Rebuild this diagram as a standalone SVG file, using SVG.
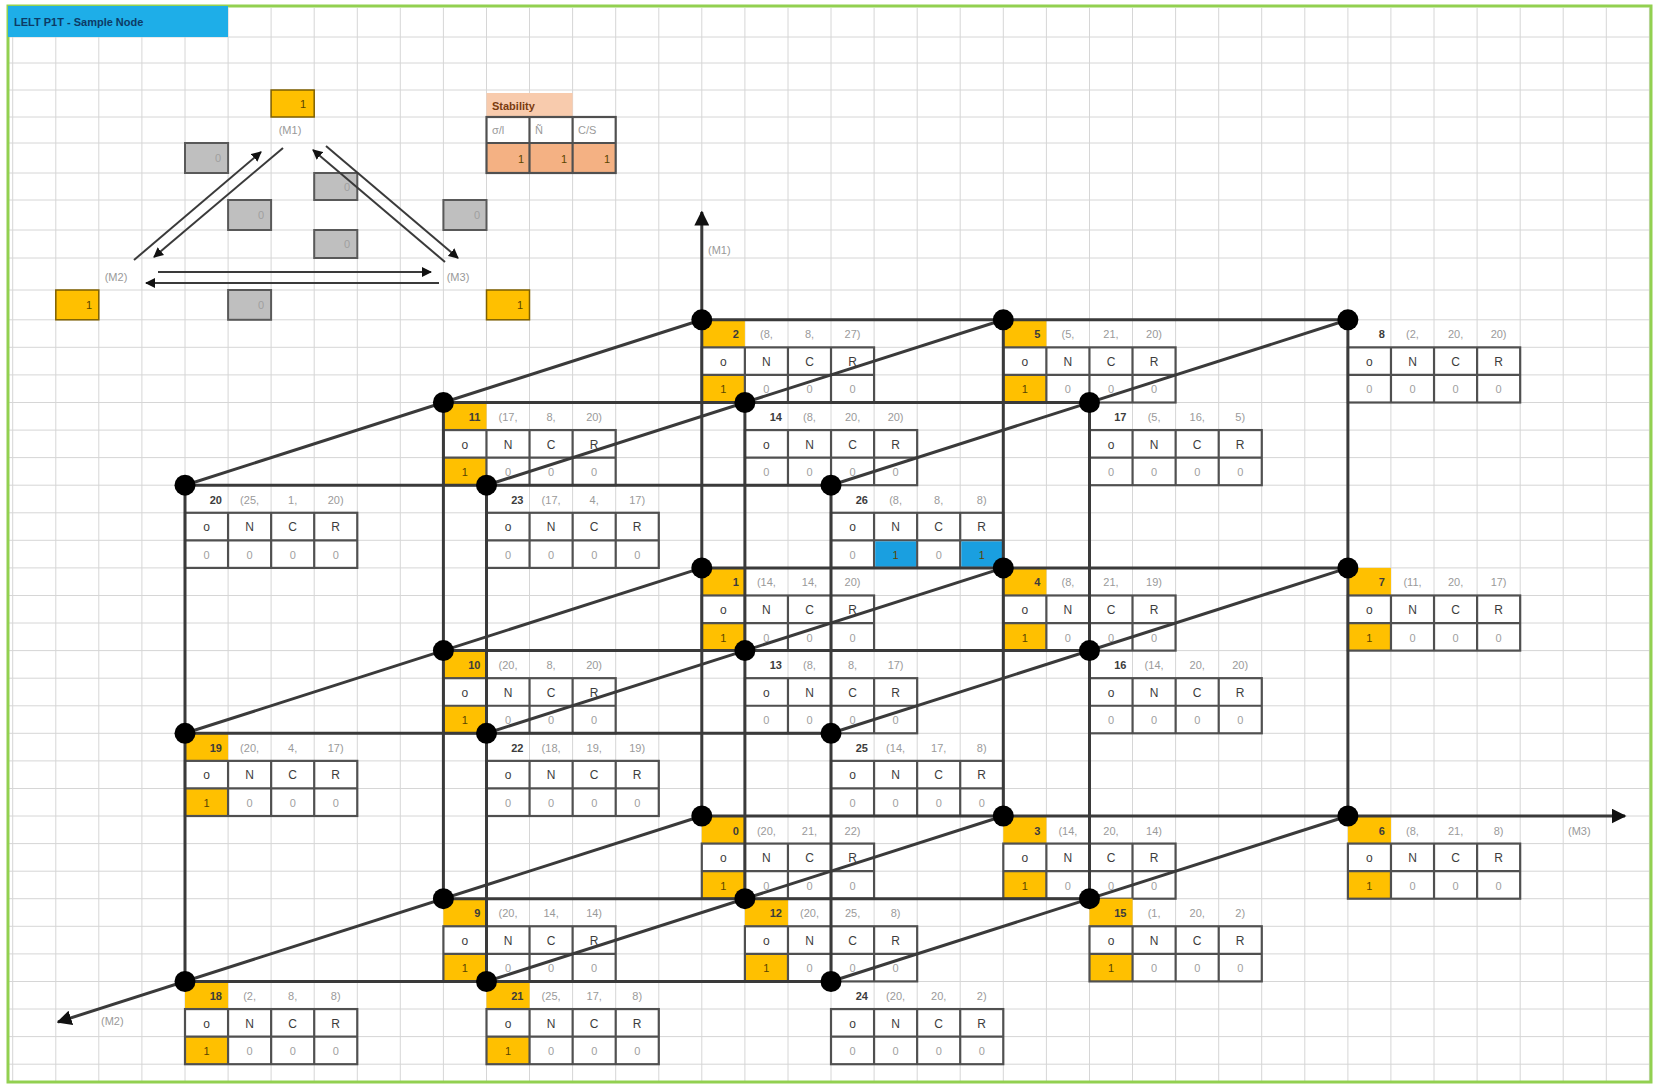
<svg xmlns="http://www.w3.org/2000/svg" xmlns:xlink="http://www.w3.org/1999/xlink" width="1655" height="1086" viewBox="0 0 1655 1086">
<style>
text{font-family:"Liberation Sans",Arial,sans-serif;font-size:11px}
.grid{stroke:#d6d6d6;stroke-width:1;fill:none}
.tb{stroke:#505050;stroke-width:2.2;fill:none}
.yel{fill:#ffc000}
.blu{fill:#1a9fe0}
.gbox{fill:#bfbfbf;stroke:#595959;stroke-width:2}
.ybox{fill:#ffc000;stroke:#7f6000;stroke-width:1.5}
.hd{fill:#3c3c3c;font-size:12px;text-anchor:middle}
.v{fill:#a0a0a0;text-anchor:middle}
.vy{fill:#5a4500;text-anchor:middle}
.num{fill:#3c3c3c;font-weight:bold;text-anchor:end}
.lb{fill:#9a9a9a;text-anchor:middle}
.ax{fill:#999;font-size:11px}
.ln{stroke:#3a3a3a;stroke-width:3;fill:none}
.tri{stroke:#3a3a3a;stroke-width:2;fill:none}
.dot{fill:#000}
</style>
<defs>
<marker id="arr" viewBox="0 0 10 10" refX="9" refY="5" markerWidth="5" markerHeight="5" orient="auto"><path d="M0,0L10,5L0,10z" fill="#111"/></marker>
<g id="tbl">
<rect class="tb" x="0" y="27.57" width="172.28" height="55.14"/>
<path class="tb" d="M43.07 27.57V82.71M86.14 27.57V82.71M129.21 27.57V82.71M0 55.14H172.28"/>
<text class="hd" x="21.5" y="46">o</text><text class="hd" x="64.6" y="46">N</text><text class="hd" x="107.7" y="46">C</text><text class="hd" x="150.7" y="46">R</text>
<text class="v" x="64.6" y="73.7">0</text><text class="v" x="107.7" y="73.7">0</text><text class="v" x="150.7" y="73.7">0</text>
</g>
</defs>
<rect x="0" y="0" width="1655" height="1086" fill="#fff"/>
<path class="grid" d="M12.7 8V1082M55.8 8V1082M98.8 8V1082M141.9 8V1082M185 8V1082M228.1 8V1082M271.1 8V1082M314.2 8V1082M357.3 8V1082M400.3 8V1082M443.4 8V1082M486.5 8V1082M529.5 8V1082M572.6 8V1082M615.7 8V1082M658.8 8V1082M701.8 8V1082M744.9 8V1082M788 8V1082M831 8V1082M874.1 8V1082M917.2 8V1082M960.2 8V1082M1003.3 8V1082M1046.4 8V1082M1089.5 8V1082M1132.5 8V1082M1175.6 8V1082M1218.7 8V1082M1261.7 8V1082M1304.8 8V1082M1347.9 8V1082M1390.9 8V1082M1434 8V1082M1477.1 8V1082M1520.2 8V1082M1563.2 8V1082M1606.3 8V1082M1649.4 8V1082
M8 37H1651M8 63H1651M8 90H1651M8 117H1651M8 143H1651M8 173H1651M8 200H1651M8 230H1651M8 258H1651M8 290H1651M8 319.8H1651M8 347.3H1651M8 374.9H1651M8 402.5H1651M8 430.1H1651M8 457.6H1651M8 485.2H1651M8 512.8H1651M8 540.3H1651M8 567.9H1651M8 595.5H1651M8 623H1651M8 650.6H1651M8 678.2H1651M8 705.8H1651M8 733.3H1651M8 760.9H1651M8 788.5H1651M8 816H1651M8 843.6H1651M8 871.2H1651M8 898.7H1651M8 926.3H1651M8 953.9H1651M8 981.5H1651M8 1009H1651M8 1036.6H1651M8 1064.2H1651"/>
<rect x="8" y="6" width="1643" height="1076" fill="none" stroke="#92d050" stroke-width="3"/>
<g id="title"><rect x="8" y="6" width="220" height="31" fill="#1eaee8"/><text x="14" y="26" fill="#0d3b66" font-weight="bold">LELT P1T - Sample Node</text></g>

<g id="legend-triangle">
<rect class="ybox" x="271.1" y="90" width="43.1" height="27"/><text class="vy" x="306" y="108" style="text-anchor:end">1</text>
<rect class="ybox" x="55.8" y="290" width="43" height="29.8"/><text class="vy" x="92" y="309" style="text-anchor:end">1</text>
<rect class="ybox" x="486.5" y="290" width="43" height="29.8"/><text class="vy" x="523" y="309" style="text-anchor:end">1</text>
<rect class="gbox" x="185" y="143" width="43.1" height="30"/><text class="v" x="221" y="162" style="text-anchor:end">0</text>
<rect class="gbox" x="314.2" y="173" width="43.1" height="27"/><text class="v" x="350" y="191" style="text-anchor:end">0</text>
<rect class="gbox" x="228.1" y="200" width="43" height="30"/><text class="v" x="264" y="219" style="text-anchor:end">0</text>
<rect class="gbox" x="443.4" y="200" width="43.1" height="30"/><text class="v" x="480" y="219" style="text-anchor:end">0</text>
<rect class="gbox" x="314.2" y="230" width="43.1" height="28"/><text class="v" x="350" y="248" style="text-anchor:end">0</text>
<rect class="gbox" x="228.1" y="290" width="43" height="29.8"/><text class="v" x="264" y="309" style="text-anchor:end">0</text>
<text class="ax" x="290" y="134" text-anchor="middle">(M1)</text>
<text class="ax" x="116" y="281" text-anchor="middle">(M2)</text>
<text class="ax" x="458" y="281" text-anchor="middle">(M3)</text>
</g>

<g id="stability">
<rect x="486.5" y="93" width="86.1" height="24" fill="#f8cbad"/>
<text x="492" y="110" fill="#7a3b10" font-weight="bold">Stability</text>
<rect x="486.5" y="143" width="129.2" height="30" fill="#f4b183"/>
<rect class="tb" x="486.5" y="117" width="129.2" height="56"/>
<path class="tb" d="M529.5 117V173M572.6 117V173M486.5 143H615.7"/>
<text class="lb" x="492" y="134" style="text-anchor:start">σ/l</text><text class="lb" x="535" y="134" style="text-anchor:start">Ñ</text><text class="lb" x="578" y="134" style="text-anchor:start">C/S</text>
<text class="vy" x="524" y="163" style="text-anchor:end">1</text><text class="vy" x="567" y="163" style="text-anchor:end">1</text><text class="vy" x="610" y="163" style="text-anchor:end">1</text>
</g>

<g id="node-0" transform="translate(701.8,816)"><rect class="yel" width="43.07" height="27.57"/><rect class="yel" y="55.14" width="43.07" height="27.57"/><use href="#tbl"/><text class="num" x="37" y="18.5">0</text><text class="lb" x="64.6" y="18.5">(20,</text><text class="lb" x="107.7" y="18.5">21,</text><text class="lb" x="150.7" y="18.5">22)</text><text class="vy" x="21.5" y="73.7">1</text></g>
<g id="node-1" transform="translate(701.8,567.9)"><rect class="yel" width="43.07" height="27.57"/><rect class="yel" y="55.14" width="43.07" height="27.57"/><use href="#tbl"/><text class="num" x="37" y="18.5">1</text><text class="lb" x="64.6" y="18.5">(14,</text><text class="lb" x="107.7" y="18.5">14,</text><text class="lb" x="150.7" y="18.5">20)</text><text class="vy" x="21.5" y="73.7">1</text></g>
<g id="node-2" transform="translate(701.8,319.8)"><rect class="yel" width="43.07" height="27.57"/><rect class="yel" y="55.14" width="43.07" height="27.57"/><use href="#tbl"/><text class="num" x="37" y="18.5">2</text><text class="lb" x="64.6" y="18.5">(8,</text><text class="lb" x="107.7" y="18.5">8,</text><text class="lb" x="150.7" y="18.5">27)</text><text class="vy" x="21.5" y="73.7">1</text></g>
<g id="node-3" transform="translate(1003.3,816)"><rect class="yel" width="43.07" height="27.57"/><rect class="yel" y="55.14" width="43.07" height="27.57"/><use href="#tbl"/><text class="num" x="37" y="18.5">3</text><text class="lb" x="64.6" y="18.5">(14,</text><text class="lb" x="107.7" y="18.5">20,</text><text class="lb" x="150.7" y="18.5">14)</text><text class="vy" x="21.5" y="73.7">1</text></g>
<g id="node-4" transform="translate(1003.3,567.9)"><rect class="yel" width="43.07" height="27.57"/><rect class="yel" y="55.14" width="43.07" height="27.57"/><use href="#tbl"/><text class="num" x="37" y="18.5">4</text><text class="lb" x="64.6" y="18.5">(8,</text><text class="lb" x="107.7" y="18.5">21,</text><text class="lb" x="150.7" y="18.5">19)</text><text class="vy" x="21.5" y="73.7">1</text></g>
<g id="node-5" transform="translate(1003.3,319.8)"><rect class="yel" width="43.07" height="27.57"/><rect class="yel" y="55.14" width="43.07" height="27.57"/><use href="#tbl"/><text class="num" x="37" y="18.5">5</text><text class="lb" x="64.6" y="18.5">(5,</text><text class="lb" x="107.7" y="18.5">21,</text><text class="lb" x="150.7" y="18.5">20)</text><text class="vy" x="21.5" y="73.7">1</text></g>
<g id="node-6" transform="translate(1347.9,816)"><rect class="yel" width="43.07" height="27.57"/><rect class="yel" y="55.14" width="43.07" height="27.57"/><use href="#tbl"/><text class="num" x="37" y="18.5">6</text><text class="lb" x="64.6" y="18.5">(8,</text><text class="lb" x="107.7" y="18.5">21,</text><text class="lb" x="150.7" y="18.5">8)</text><text class="vy" x="21.5" y="73.7">1</text></g>
<g id="node-7" transform="translate(1347.9,567.9)"><rect class="yel" width="43.07" height="27.57"/><rect class="yel" y="55.14" width="43.07" height="27.57"/><use href="#tbl"/><text class="num" x="37" y="18.5">7</text><text class="lb" x="64.6" y="18.5">(11,</text><text class="lb" x="107.7" y="18.5">20,</text><text class="lb" x="150.7" y="18.5">17)</text><text class="vy" x="21.5" y="73.7">1</text></g>
<g id="node-8" transform="translate(1347.9,319.8)"><use href="#tbl"/><text class="num" x="37" y="18.5">8</text><text class="lb" x="64.6" y="18.5">(2,</text><text class="lb" x="107.7" y="18.5">20,</text><text class="lb" x="150.7" y="18.5">20)</text><text class="v" x="21.5" y="73.7">0</text></g>
<g id="node-9" transform="translate(443.4,898.7)"><rect class="yel" width="43.07" height="27.57"/><rect class="yel" y="55.14" width="43.07" height="27.57"/><use href="#tbl"/><text class="num" x="37" y="18.5">9</text><text class="lb" x="64.6" y="18.5">(20,</text><text class="lb" x="107.7" y="18.5">14,</text><text class="lb" x="150.7" y="18.5">14)</text><text class="vy" x="21.5" y="73.7">1</text></g>
<g id="node-10" transform="translate(443.4,650.6)"><rect class="yel" width="43.07" height="27.57"/><rect class="yel" y="55.14" width="43.07" height="27.57"/><use href="#tbl"/><text class="num" x="37" y="18.5">10</text><text class="lb" x="64.6" y="18.5">(20,</text><text class="lb" x="107.7" y="18.5">8,</text><text class="lb" x="150.7" y="18.5">20)</text><text class="vy" x="21.5" y="73.7">1</text></g>
<g id="node-11" transform="translate(443.4,402.5)"><rect class="yel" width="43.07" height="27.57"/><rect class="yel" y="55.14" width="43.07" height="27.57"/><use href="#tbl"/><text class="num" x="37" y="18.5">11</text><text class="lb" x="64.6" y="18.5">(17,</text><text class="lb" x="107.7" y="18.5">8,</text><text class="lb" x="150.7" y="18.5">20)</text><text class="vy" x="21.5" y="73.7">1</text></g>
<g id="node-12" transform="translate(744.9,898.7)"><rect class="yel" width="43.07" height="27.57"/><rect class="yel" y="55.14" width="43.07" height="27.57"/><use href="#tbl"/><text class="num" x="37" y="18.5">12</text><text class="lb" x="64.6" y="18.5">(20,</text><text class="lb" x="107.7" y="18.5">25,</text><text class="lb" x="150.7" y="18.5">8)</text><text class="vy" x="21.5" y="73.7">1</text></g>
<g id="node-13" transform="translate(744.9,650.6)"><use href="#tbl"/><text class="num" x="37" y="18.5">13</text><text class="lb" x="64.6" y="18.5">(8,</text><text class="lb" x="107.7" y="18.5">8,</text><text class="lb" x="150.7" y="18.5">17)</text><text class="v" x="21.5" y="73.7">0</text></g>
<g id="node-14" transform="translate(744.9,402.5)"><use href="#tbl"/><text class="num" x="37" y="18.5">14</text><text class="lb" x="64.6" y="18.5">(8,</text><text class="lb" x="107.7" y="18.5">20,</text><text class="lb" x="150.7" y="18.5">20)</text><text class="v" x="21.5" y="73.7">0</text></g>
<g id="node-15" transform="translate(1089.5,898.7)"><rect class="yel" width="43.07" height="27.57"/><rect class="yel" y="55.14" width="43.07" height="27.57"/><use href="#tbl"/><text class="num" x="37" y="18.5">15</text><text class="lb" x="64.6" y="18.5">(1,</text><text class="lb" x="107.7" y="18.5">20,</text><text class="lb" x="150.7" y="18.5">2)</text><text class="vy" x="21.5" y="73.7">1</text></g>
<g id="node-16" transform="translate(1089.5,650.6)"><use href="#tbl"/><text class="num" x="37" y="18.5">16</text><text class="lb" x="64.6" y="18.5">(14,</text><text class="lb" x="107.7" y="18.5">20,</text><text class="lb" x="150.7" y="18.5">20)</text><text class="v" x="21.5" y="73.7">0</text></g>
<g id="node-17" transform="translate(1089.5,402.5)"><use href="#tbl"/><text class="num" x="37" y="18.5">17</text><text class="lb" x="64.6" y="18.5">(5,</text><text class="lb" x="107.7" y="18.5">16,</text><text class="lb" x="150.7" y="18.5">5)</text><text class="v" x="21.5" y="73.7">0</text></g>
<g id="node-18" transform="translate(185,981.5)"><rect class="yel" width="43.07" height="27.57"/><rect class="yel" y="55.14" width="43.07" height="27.57"/><use href="#tbl"/><text class="num" x="37" y="18.5">18</text><text class="lb" x="64.6" y="18.5">(2,</text><text class="lb" x="107.7" y="18.5">8,</text><text class="lb" x="150.7" y="18.5">8)</text><text class="vy" x="21.5" y="73.7">1</text></g>
<g id="node-19" transform="translate(185,733.3)"><rect class="yel" width="43.07" height="27.57"/><rect class="yel" y="55.14" width="43.07" height="27.57"/><use href="#tbl"/><text class="num" x="37" y="18.5">19</text><text class="lb" x="64.6" y="18.5">(20,</text><text class="lb" x="107.7" y="18.5">4,</text><text class="lb" x="150.7" y="18.5">17)</text><text class="vy" x="21.5" y="73.7">1</text></g>
<g id="node-20" transform="translate(185,485.2)"><use href="#tbl"/><text class="num" x="37" y="18.5">20</text><text class="lb" x="64.6" y="18.5">(25,</text><text class="lb" x="107.7" y="18.5">1,</text><text class="lb" x="150.7" y="18.5">20)</text><text class="v" x="21.5" y="73.7">0</text></g>
<g id="node-21" transform="translate(486.5,981.5)"><rect class="yel" width="43.07" height="27.57"/><rect class="yel" y="55.14" width="43.07" height="27.57"/><use href="#tbl"/><text class="num" x="37" y="18.5">21</text><text class="lb" x="64.6" y="18.5">(25,</text><text class="lb" x="107.7" y="18.5">17,</text><text class="lb" x="150.7" y="18.5">8)</text><text class="vy" x="21.5" y="73.7">1</text></g>
<g id="node-22" transform="translate(486.5,733.3)"><use href="#tbl"/><text class="num" x="37" y="18.5">22</text><text class="lb" x="64.6" y="18.5">(18,</text><text class="lb" x="107.7" y="18.5">19,</text><text class="lb" x="150.7" y="18.5">19)</text><text class="v" x="21.5" y="73.7">0</text></g>
<g id="node-23" transform="translate(486.5,485.2)"><use href="#tbl"/><text class="num" x="37" y="18.5">23</text><text class="lb" x="64.6" y="18.5">(17,</text><text class="lb" x="107.7" y="18.5">4,</text><text class="lb" x="150.7" y="18.5">17)</text><text class="v" x="21.5" y="73.7">0</text></g>
<g id="node-24" transform="translate(831,981.5)"><use href="#tbl"/><text class="num" x="37" y="18.5">24</text><text class="lb" x="64.6" y="18.5">(20,</text><text class="lb" x="107.7" y="18.5">20,</text><text class="lb" x="150.7" y="18.5">2)</text><text class="v" x="21.5" y="73.7">0</text></g>
<g id="node-25" transform="translate(831,733.3)"><use href="#tbl"/><text class="num" x="37" y="18.5">25</text><text class="lb" x="64.6" y="18.5">(14,</text><text class="lb" x="107.7" y="18.5">17,</text><text class="lb" x="150.7" y="18.5">8)</text><text class="v" x="21.5" y="73.7">0</text></g>
<g id="node-26" transform="translate(831,485.2)"><use href="#tbl"/><rect class="blu" x="44.2" y="56.2" width="40.9" height="25.4"/><rect class="blu" x="130.3" y="56.2" width="40.9" height="25.4"/><text class="num" x="37" y="18.5">26</text><text class="lb" x="64.6" y="18.5">(8,</text><text class="lb" x="107.7" y="18.5">8,</text><text class="lb" x="150.7" y="18.5">8)</text><text class="v" x="21.5" y="73.7">0</text><text class="vy" x="64.6" y="73.7" fill="#0b4f7a">1</text><text class="vy" x="150.7" y="73.7" fill="#0b4f7a">1</text></g>

<g id="connectors">
<g class="ln">
<path d="M701.8 319.8H1347.9M701.8 567.9H1347.9M443.4 402.5H1089.5M443.4 650.6H1089.5M443.4 898.7H1089.5M185 485.2H831M185 733.3H831M185 981.5H831"/>
<path d="M1003.3 319.8V816M1347.9 319.8V816M443.4 402.5V898.7M744.9 402.5V898.7M1089.5 402.5V898.7M185 485.2V981.5M486.5 485.2V981.5M831 485.2V981.5"/>
<path d="M185 485.2L701.8 319.8M185 733.3L701.8 567.9M486.5 485.2L1003.3 319.8M486.5 733.3L1003.3 567.9M486.5 981.5L1003.3 816M831 485.2L1347.9 319.8M831 733.3L1347.9 567.9M831 981.5L1347.9 816"/>
<path d="M701.8 816V212" marker-end="url(#arr)"/>
<path d="M701.8 816H1625" marker-end="url(#arr)"/>
<path d="M701.8 816L58 1022" marker-end="url(#arr)"/>
</g>
<g class="tri">
<path d="M134 260L261 152" marker-end="url(#arr)"/>
<path d="M283 148L154 257" marker-end="url(#arr)"/>
<path d="M445 262L313 150" marker-end="url(#arr)"/>
<path d="M326 146L458 258" marker-end="url(#arr)"/>
<path d="M158 272H431" marker-end="url(#arr)"/>
<path d="M439 283H146" marker-end="url(#arr)"/>
</g>
</g>
<text class="ax" x="708" y="254">(M1)</text>
<text class="ax" x="1568" y="835">(M3)</text>
<text class="ax" x="101" y="1025">(M2)</text>

<g id="joints" class="dot">
<circle cx="701.8" cy="319.8" r="10.5"/><circle cx="1003.3" cy="319.8" r="10.5"/><circle cx="1347.9" cy="319.8" r="10.5"/>
<circle cx="701.8" cy="567.9" r="10.5"/><circle cx="1003.3" cy="567.9" r="10.5"/><circle cx="1347.9" cy="567.9" r="10.5"/>
<circle cx="701.8" cy="816" r="10.5"/><circle cx="1003.3" cy="816" r="10.5"/><circle cx="1347.9" cy="816" r="10.5"/>
<circle cx="443.4" cy="402.5" r="10.5"/><circle cx="744.9" cy="402.5" r="10.5"/><circle cx="1089.5" cy="402.5" r="10.5"/>
<circle cx="443.4" cy="650.6" r="10.5"/><circle cx="744.9" cy="650.6" r="10.5"/><circle cx="1089.5" cy="650.6" r="10.5"/>
<circle cx="443.4" cy="898.7" r="10.5"/><circle cx="744.9" cy="898.7" r="10.5"/><circle cx="1089.5" cy="898.7" r="10.5"/>
<circle cx="185" cy="485.2" r="10.5"/><circle cx="486.5" cy="485.2" r="10.5"/><circle cx="831" cy="485.2" r="10.5"/>
<circle cx="185" cy="733.3" r="10.5"/><circle cx="486.5" cy="733.3" r="10.5"/><circle cx="831" cy="733.3" r="10.5"/>
<circle cx="185" cy="981.5" r="10.5"/><circle cx="486.5" cy="981.5" r="10.5"/><circle cx="831" cy="981.5" r="10.5"/>
</g>
</svg>
